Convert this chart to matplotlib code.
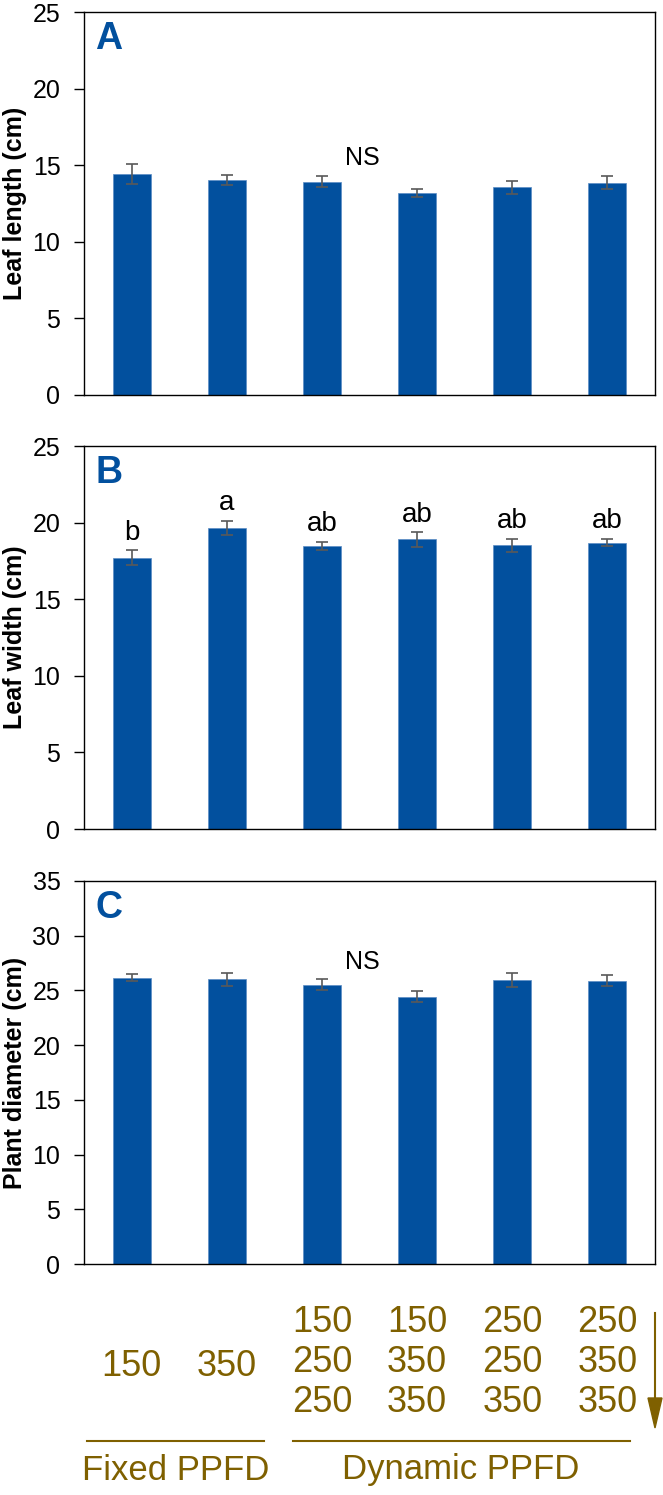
import matplotlib.pyplot as plt
import matplotlib.transforms as mtransforms

plt.rcParams['font.family'] = ['Liberation Sans', 'DejaVu Sans']

# bar positions / treatments
fixed_labels = ['150', '350']
dynamic_labels = [['150', '250', '250'],
                  ['150', '350', '350'],
                  ['250', '250', '350'],
                  ['250', '350', '350']]

# panel A - leaf length (cm)
length_mean = [14.43, 14.02, 13.93, 13.17, 13.56, 13.85]
length_err = [0.65, 0.33, 0.37, 0.26, 0.41, 0.42]

# panel B - leaf width (cm)
width_mean = [17.70, 19.66, 18.46, 18.90, 18.51, 18.70]
width_err = [0.48, 0.46, 0.28, 0.47, 0.43, 0.26]
width_letters = ['b', 'a', 'ab', 'ab', 'ab', 'ab']

# panel C - plant diameter (cm)
diam_mean = [26.18, 26.00, 25.52, 24.42, 25.97, 25.88]
diam_err = [0.36, 0.55, 0.52, 0.50, 0.62, 0.50]

blue = '#02509E'
brown = '#7F6000'
x = list(range(6))

fig = plt.figure(figsize=(6.63, 14.95), dpi=100)
W, H = 663, 1495
left, right = 84, 655


def make_ax(top, bottom):
    return fig.add_axes([left / W, 1 - bottom / H, (right - left) / W, (bottom - top) / H])


axA = make_ax(12, 395)
axB = make_ax(446, 829)
axC = make_ax(881, 1264)

panels = [
    (axA, length_mean, length_err, 'Leaf length (cm)', 25, 'A'),
    (axB, width_mean, width_err, 'Leaf width (cm)', 25, 'B'),
    (axC, diam_mean, diam_err, 'Plant diameter (cm)', 35, 'C'),
]

for ax, mean, err, ylabel, ymax, letter in panels:
    ax.bar(x, mean, width=0.4, color=blue, edgecolor='#5b8cc4', linewidth=0.5, zorder=2)
    ax.errorbar(x, mean, yerr=err, fmt='none', ecolor='#595959', elinewidth=1.2,
                capsize=4, capthick=1.2, zorder=3)
    ax.set_xlim(-0.5, 5.5)
    ax.set_ylim(0, ymax)
    ax.set_yticks(range(0, ymax + 1, 5))
    ax.set_xticks([])
    ax.tick_params(axis='y', direction='out', length=7, width=1, labelsize=18, pad=10)
    for s in ax.spines.values():
        s.set_linewidth(1.0)
    ax.set_ylabel(ylabel, fontsize=18, fontweight='bold')
    ax.yaxis.set_label_coords(-0.1, 0.5)
    ax.text(0.044, 0.93, letter, transform=ax.transAxes, fontsize=27, fontweight='bold',
            color=blue, ha='center', va='center')

axA.text(2.43, 15.5, 'NS', fontsize=18, ha='center', va='center')
axC.text(2.43, 27.6, 'NS', fontsize=18, ha='center', va='center')

for i, lab in enumerate(width_letters):
    axB.text(i, width_mean[i] + width_err[i] + 0.3, lab, fontsize=20, ha='center', va='bottom')

# treatment labels under panel C
trans = mtransforms.blended_transform_factory(axC.transData, fig.transFigure)
for i, lab in enumerate(fixed_labels):
    fig.text(i, 1 - 1366 / H, lab, transform=trans, fontsize=26, color=brown,
             ha='center', va='center')
row_y = [1322, 1363, 1403]
for j, col in enumerate(dynamic_labels):
    for k, lab in enumerate(col):
        fig.text(j + 2, 1 - row_y[k] / H, lab, transform=trans, fontsize=26, color=brown,
                 ha='center', va='center')

line_y = 1 - 1441 / H
fig.add_artist(plt.Line2D([86.6 / W, 264 / W], [line_y, line_y], color=brown, linewidth=1.5))
fig.add_artist(plt.Line2D([293 / W, 630 / W], [line_y, line_y], color=brown, linewidth=1.5))
fig.text(176 / W, 1 - 1470 / H, 'Fixed PPFD', fontsize=25, color=brown, ha='center', va='center')
fig.text(461 / W, 1 - 1470 / H, 'Dynamic PPFD', fontsize=25, color=brown, ha='center', va='center')

fig.add_artist(plt.Line2D([655 / W, 655 / W], [1 - 1313 / H, 1 - 1410 / H], color=brown, linewidth=1.5))
fig.patches.append(plt.Polygon([[648 / W, 1 - 1398 / H], [662 / W, 1 - 1398 / H], [655 / W, 1 - 1428 / H]],
                               closed=True, color=brown, transform=fig.transFigure, figure=fig))

fig.savefig('out.png', dpi=100)
